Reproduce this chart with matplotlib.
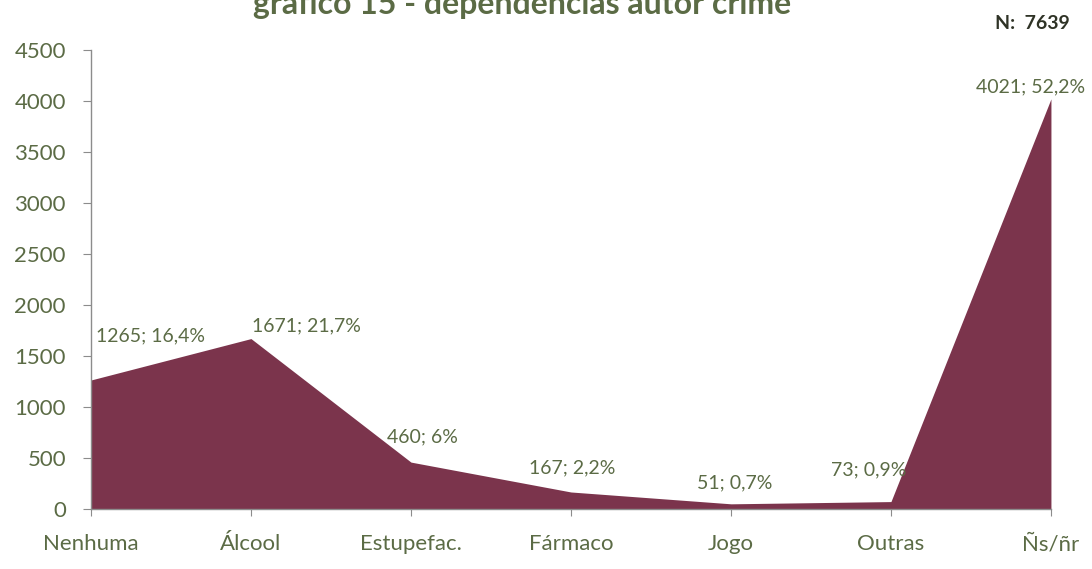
import matplotlib.pyplot as plt

plt.rcParams["font.family"] = ["Lato", "DejaVu Sans"]

categories = ["Nenhuma", "Álcool", "Estupefac.", "Fármaco", "Jogo", "Outras", "Ñs/ñr"]
counts = [1265, 1671, 460, 167, 51, 73, 4021]
labels = ["1265; 16,4%", "1671; 21,7%", "460; 6%", "167; 2,2%",
          "51; 0,7%", "73; 0,9%", "4021; 52,2%"]
total_n = 7639

# label offsets in points (dx, dy) and alignment, to mimic the Excel placement
label_offsets = [(3.6, 31.5), (0.7, 9.5), (8, 18), (0.7, 17.3), (3, 15), (-16, 23), (-15, 8.6)]
label_ha = ["left", "left", "center", "center", "center", "center", "center"]

text_color = "#5b6b45"
fill_color = "#7b344c"
axis_color = "#8c8c8c"

fig = plt.figure(figsize=(10.92, 5.69), dpi=100, facecolor="white")
ax = fig.add_axes([0.0833, 0.1054, 0.8791, 0.8067])

x = list(range(len(categories)))
ax.fill_between(x, counts, 0, color=fill_color, linewidth=0)

ax.set_xlim(0, len(categories) - 1)
ax.set_ylim(0, 4500)
ax.set_yticks(range(0, 4501, 500))
ax.set_xticks(x)
ax.set_xticklabels(categories)

ax.tick_params(axis="y", direction="out", length=6, color=axis_color,
               labelsize=16, labelcolor=text_color, pad=12)
ax.tick_params(axis="x", direction="out", length=5, color=axis_color,
               labelsize=16, labelcolor=text_color, pad=13)

for side in ["top", "right"]:
    ax.spines[side].set_visible(False)
for side in ["left", "bottom"]:
    ax.spines[side].set_color(axis_color)
    ax.spines[side].set_linewidth(1)

for xi, yi, lab, off, ha in zip(x, counts, labels, label_offsets, label_ha):
    ax.annotate(lab, (xi, yi), xytext=off, textcoords="offset points",
                ha=ha, va="center", fontsize=14, color=text_color,
                annotation_clip=False)

fig.text(0.478, 0.975, "gráfico 15 - dependências autor crime", ha="center",
         va="baseline", fontsize=23, weight="bold", color=text_color)
fig.text(0.98, 0.959, "N:  %d" % total_n, ha="right", va="center",
         fontsize=14, weight="bold", color="#2f3326")

fig.savefig("out.png", dpi=100, facecolor="white")
